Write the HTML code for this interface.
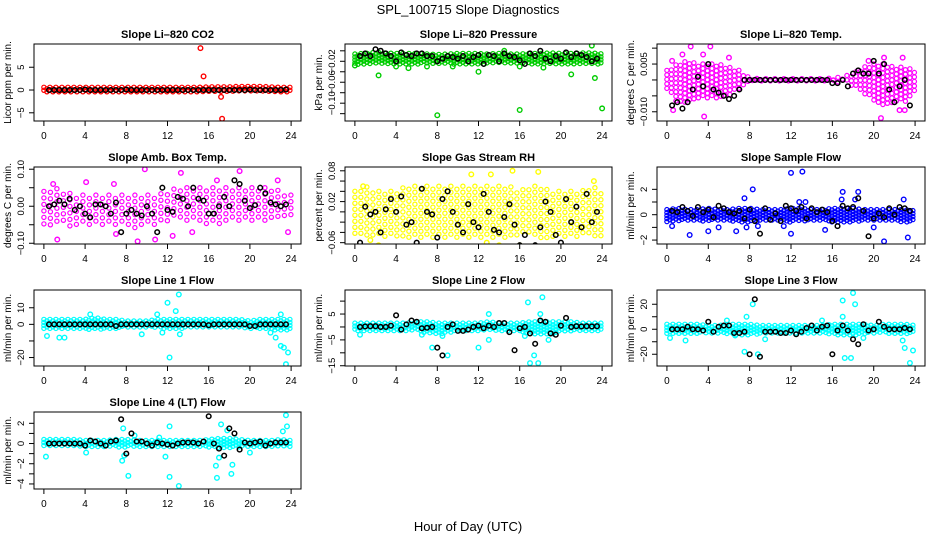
<!DOCTYPE html>
<html><head><meta charset="utf-8"><style>
html,body{margin:0;padding:0;background:#fff;}
svg{display:block;font-family:"Liberation Sans",Arial,sans-serif;}
</style></head><body>
<svg id="chart" width="936" height="540" viewBox="0 0 936 540">
<rect width="936" height="540" fill="#fff"/>
<text x="468" y="14" text-anchor="middle" font-size="13">SPL_100715  Slope Diagnostics</text>
<text x="468" y="531" text-anchor="middle" font-size="13">Hour of Day (UTC)</text>
</svg>
<script>
// ---- shared x-axis data ----
const xTicks = [0,4,8,12,16,20,24];
const blackHours = [0.5,1,1.5,2,2.5,3,3.5,4,4.5,5,5.5,6,6.5,7,7.5,8,8.5,9,9.5,10,10.5,11,11.5,12,12.5,13,13.5,14,14.5,15,15.5,16,16.5,17,17.5,18,18.5,19,19.5,20,20.5,21,21.5,22,22.5,23,23.5];
const bandHours = [0,1,2,3,4,5,6,7,8,9,10,11,12,13,14,15,16,17,18,19,20,21,22,23,24];

// ---- panel 1: CO2 ----
const co2Lo = [-0.5,-0.5,-0.6,-0.5,-0.5,-0.5,-0.5,-0.5,-0.5,-0.5,-0.5,-0.5,-0.5,-0.5,-0.5,-0.5,-0.5,-0.5,-0.5,-0.5,-0.5,-0.5,-0.5,-0.5,-0.5];
const co2Hi = [0.6,0.6,0.6,0.6,0.6,0.6,0.6,0.6,0.6,0.6,0.6,0.6,0.6,0.6,0.6,0.6,0.7,0.7,0.7,0.8,0.8,0.8,0.7,0.6,0.6];
const co2Out = [[15.2,9.2],[15.5,3.0],[17.2,-1.5],[17.3,-6.3]];
const co2Black = [0,0,0,0,0,0,0,0.1,0,0,0,0,0,0,0,0.1,0,0,0,0,0,0,0,0,0,0,0,0,0,0,0,0,0,0,0,0,0,0,0,0.1,0,0,0,0,0,0,0.1];
// ---- panel 2: pressure ----
const presLo = [-0.027,-0.026,-0.026,-0.026,-0.025,-0.026,-0.026,-0.025,-0.027,-0.026,-0.026,-0.025,-0.026,-0.026,-0.025,-0.026,-0.026,-0.025,-0.026,-0.026,-0.025,-0.026,-0.026,-0.025,-0.026];
const presHi = [-0.006,-0.005,-0.003,-0.004,-0.005,-0.005,-0.005,-0.006,-0.007,-0.006,-0.005,-0.005,-0.005,-0.006,-0.005,-0.006,-0.006,-0.005,-0.005,-0.004,-0.005,-0.005,-0.004,-0.004,-0.006];
const presOut = [[8,-0.123],[16,-0.113],[24,-0.11],[2.3,-0.047],[23.3,-0.052],[12,-0.04],[21,-0.045],[0,-0.028],[5.2,-0.033],[23,0.01],[14.5,0.0],[4,-0.03],[7,-0.03],[9.5,-0.03],[16,-0.03],[18.3,-0.032]];
const presBlack = [-0.01,-0.005,-0.01,0.003,0,-0.005,-0.01,-0.02,-0.003,-0.008,-0.01,-0.005,-0.005,-0.01,-0.01,-0.02,-0.015,-0.01,-0.012,-0.015,-0.01,-0.02,-0.012,-0.008,-0.025,-0.008,-0.01,-0.02,-0.005,-0.01,-0.012,-0.018,-0.025,-0.005,-0.01,0.0,-0.015,-0.02,-0.01,-0.015,-0.003,-0.012,-0.005,-0.008,-0.012,-0.02,-0.015];
// ---- panel 3: Li-820 temp ----
const tempLo = [-0.004,-0.007,-0.007,-0.006,-0.006,-0.006,-0.005,-0.003,-0.0006,-0.0004,-0.0004,-0.0004,-0.0004,-0.0004,-0.0004,-0.0004,-0.0006,-0.001,-0.002,-0.004,-0.007,-0.008,-0.007,-0.007,-0.004];
const tempHi = [0.003,0.005,0.006,0.005,0.005,0.005,0.004,0.003,0.0006,0.0004,0.0004,0.0004,0.0004,0.0004,0.0004,0.0004,0.0006,0.001,0.002,0.004,0.005,0.005,0.004,0.004,0.003];
const tempOut = [[2.3,0.0105],[3.6,-0.0115],[20.7,-0.012],[4.2,0.0105],[0.6,-0.0095],[22.5,-0.0095],[23,-0.0095],[1.5,0.008],[3.5,0.008],[6,0.007],[21,0.007],[22.8,0.007],[0.5,0.006],[19.5,0.006]];
const tempBlack = [-0.008,-0.007,-0.009,-0.007,-0.003,0.001,-0.002,0.005,-0.003,-0.004,-0.005,-0.006,-0.005,-0.003,0.0,0,0,0,0,0,0,0,0,0,0,0,0,0,0,0,0,-0.001,-0.001,0.0,-0.002,0.002,0.003,0.002,0.002,0.006,0.002,0.005,-0.003,-0.007,-0.002,0.0,-0.008];
// ---- panel 4: ambient box temp ----
const ambLo = [-0.05,-0.06,-0.05,-0.06,-0.05,-0.05,-0.05,-0.05,-0.06,-0.06,-0.05,-0.05,-0.04,-0.04,-0.04,-0.05,-0.05,-0.05,-0.04,-0.04,-0.04,-0.04,-0.04,-0.04,-0.04];
const ambHi = [0.04,0.05,0.04,0.03,0.03,0.03,0.03,0.03,0.03,0.03,0.03,0.03,0.04,0.05,0.05,0.05,0.05,0.05,0.05,0.05,0.05,0.05,0.05,0.04,0.03];
const ambOut = [[9.8,0.1],[19,0.095],[13.3,0.09],[9.1,-0.095],[7,-0.075],[23.7,-0.07],[4.1,0.065],[22.7,0.07],[0.9,0.06],[6.8,0.06],[16.8,0.07],[1.3,-0.09],[10.8,-0.09],[12.5,-0.08],[14.4,-0.07]];
const ambBlack = [0.0,0.005,0.015,0.005,0.02,-0.01,0.0,-0.02,-0.03,0.005,0.005,0.0,-0.02,0.01,-0.07,-0.02,-0.01,-0.02,-0.025,0.0,-0.02,-0.07,0.05,-0.01,-0.015,0.025,0.02,0.0,0.05,0.02,0.015,-0.02,-0.02,0.0,0.025,0.0,0.07,0.06,0.015,-0.005,0.003,0.05,0.035,0.01,0.005,0.0,0.005];
// ---- panel 5: gas stream RH ----
const rhLo = [-0.05,-0.05,-0.05,-0.05,-0.05,-0.05,-0.05,-0.05,-0.05,-0.05,-0.05,-0.05,-0.05,-0.05,-0.05,-0.05,-0.05,-0.05,-0.05,-0.05,-0.05,-0.05,-0.05,-0.05,-0.05];
const rhHi = [0.04,0.05,0.04,0.04,0.04,0.05,0.05,0.05,0.05,0.05,0.05,0.05,0.05,0.05,0.05,0.05,0.04,0.05,0.05,0.04,0.04,0.04,0.04,0.05,0.04];
const rhOut = [[15.3,0.08],[17.8,0.078],[11.3,0.073],[13.2,0.073],[0.8,0.05],[23.2,0.06],[7,-0.07],[14,-0.065],[1.5,-0.055],[2.3,-0.065],[12.8,-0.06],[16,-0.065]];
const rhBlack = [-0.06,0.01,-0.005,0.0,-0.04,0.005,0.025,0.0,0.03,-0.025,-0.02,-0.06,0.045,0.0,-0.005,-0.05,0.025,0.04,0.0,-0.025,-0.04,0.015,-0.02,-0.03,0.035,0.0,-0.035,-0.04,-0.01,0.015,-0.025,-0.065,-0.045,-0.07,-0.065,-0.03,0.02,0.0,-0.045,-0.06,0.025,-0.02,0.01,-0.03,0.035,-0.02,0.0];
// ---- panel 6: sample flow ----
const sfLo = [-0.6,-0.5,-0.5,-0.5,-0.5,-0.5,-0.5,-0.6,-0.6,-0.5,-0.5,-0.5,-0.6,-0.5,-0.5,-0.5,-0.6,-0.6,-0.6,-0.5,-0.5,-0.5,-0.5,-0.6,-0.5];
const sfHi = [0.4,0.5,0.4,0.4,0.5,0.4,0.4,0.5,0.5,0.4,0.4,0.4,0.5,0.5,0.4,0.4,0.5,0.5,0.5,0.4,0.4,0.4,0.4,0.4,0.3];
const sfOut = [[7.5,1.3],[8.3,2.0],[12,3.3],[13.1,3.4],[12.8,1.0],[13.4,1.0],[17,1.8],[18.5,1.8],[22.9,1.2],[2.2,-1.6],[4,-1.3],[6.7,-1.3],[12,-1.5],[15.3,-1.2],[21,-2.1],[23.3,-1.8],[0.5,-0.9],[5,-1.0],[7.7,-1.0],[8.8,-0.9],[11.3,-0.9],[16.9,1.2],[18.2,1.2],[20,-1.0]];
const sfBlack = [0.3,0.2,0.6,0.3,-0.1,0.6,0.2,0.4,-0.2,0.7,0.5,0.2,0.1,0.3,-0.3,0.4,-0.5,-1.5,0.5,-0.4,0.1,-0.5,0.7,0.5,0.3,0.6,-0.3,0.5,0.2,0.4,0.2,-0.5,-0.9,0.7,0.5,0.6,1.3,0.3,-1.7,-0.3,0.1,-0.2,0.5,0.0,0.6,0.5,0.3];
// ---- panel 7: line 1 flow ----
const l1Lo = [-3,-3,-3,-3,-3,-3,-3,-3,-2,-2,-2,-2,-3,-3,-2,-2,-2,-2,-2,-2,-3,-3,-3,-4,-3];
const l1Hi = [3,3,3,3,3,4,3,3,2,2,2,3,3,3,3,3,3,3,3,3,2,3,3,3,3];
const l1Out = [[12,13],[13.1,18],[12.8,8],[12.2,-20],[23.5,-24],[23.7,-17],[23,-13],[23.3,-14],[22.5,-8],[1.5,-8],[2,-8],[0.3,-7],[9.5,-6],[22,-5],[4.5,6],[11,6],[23,6],[13.2,-6],[11.5,-5]];
const l1Black = [0,0,0,0,0,0,0,0,0,0,0,0,0,-1,0,0,0,0,0,0,0,0,0,0,0,0,0,0,0,0,0,-0.5,0,0,0,0,0,0,0,-1,-1,0,0,0,0,0,0];
// ---- panel 8: line 2 flow ----
const l2Lo = [-1.5,-1.5,-1.5,-1.5,-1.5,-1.5,-1.5,-2.5,-3,-2.5,-1.5,-1.5,-1.5,-1.5,-1.5,-1.5,-2,-2.5,-3,-3,-2,-1.5,-1.5,-1.5,-1.5];
const l2Hi = [1.5,1.5,1.5,1.5,1.5,1.5,2,2,1.5,1.5,1.5,1.5,1.5,2,1.5,1.5,1.5,2,2,2,2,2,1.5,1.5,1.5];
const l2Out = [[16.8,9.5],[18.2,11.5],[18,5],[17,-14],[17.8,-14],[17.4,-11],[9,-11],[13,-5],[12,-8],[7.5,-8],[16.5,-3.5],[0.5,-3],[13,5],[18.8,-5],[6.5,-3],[8.5,-3.5]];
const l2Black = [0,0.2,0.3,0.3,0,0,0.5,4.5,-1,1,2.5,2,-0.5,-0.3,0,-8,-11,0,1,-1.5,-1.5,-1,0,0.5,-0.5,0.5,0,1.5,1.5,-2,-9,-0.5,0,-2.5,-6.5,2.5,2,-2.5,-3,0.5,3.5,0,0.3,0.2,0.3,0.2,0.3];
// ---- panel 9: line 3 flow ----
const l3Lo = [-4,-4,-4,-4,-3,-3,-4,-5,-5,-4,-3,-3,-3,-3,-3,-3,-4,-5,-5,-4,-3,-3,-4,-4,-3];
const l3Hi = [4,4,4,4,3,3,4,4,4,3,3,3,3,3,3,3,4,4,4,4,3,4,4,4,3];
const l3Out = [[17,23],[18,29],[18.2,20],[8.3,20],[7.7,10],[8.8,-20],[7.5,-18],[17.2,-23],[17.8,-23],[23.5,-27],[23.8,-17],[23,-15],[22.8,-9],[1.8,-9],[0.3,-7],[17,10],[15,7],[19,-7],[5.8,7],[6.6,-5],[9.5,-8]];
const l3Black = [0,0,0,2,0,0,-1,6,-2,2,3,3,-3,-3,-2,-20,24,-22,-2,-2,-2,-3,-3,-1,-4,-2,1,3,-1,2,3,-20,-1,3,-1,-8,-12,4,-1,0,6,2,0,0,0,1,0];
// ---- panel 10: line 4 flow ----
const l4Lo = [-0.3,-0.3,-0.3,-0.3,-0.3,-0.3,-0.3,-0.4,-0.4,-0.3,-0.3,-0.3,-0.3,-0.3,-0.3,-0.3,-0.4,-0.5,-0.5,-0.4,-0.3,-0.3,-0.3,-0.3,-0.3];
const l4Hi = [0.4,0.4,0.4,0.4,0.3,0.3,0.3,0.4,0.4,0.3,0.3,0.3,0.3,0.3,0.3,0.3,0.4,0.5,0.5,0.4,0.3,0.3,0.3,0.4,0.3];
const l4Out = [[7.7,1.5],[7.6,-1.7],[8.2,-3.2],[12.2,-3.3],[13.1,-4.2],[12.2,1.7],[16.8,-3.4],[16.7,-2.2],[17.2,1.9],[17.8,1.3],[18.3,-2.1],[18.2,-3.0],[23.5,2.8],[23.6,1.7],[23.2,1.2],[0.2,-1.3],[4.1,-0.9],[11.8,-1.3],[20,-0.9],[7.8,-1.2],[8.8,0.8],[11.2,0.6],[17,-1.4]];
const l4Black = [0,0,0,0,0,0,0,-0.2,0.3,0.2,0,-0.2,0.2,0.3,2.4,-1,1,0.2,0.2,0,-0.2,0.1,0,-0.1,-0.2,0,0.1,0.1,0.1,0,0.2,2.7,0,-0.5,-1.2,1.5,1,-0.6,0.1,0,0.1,0.2,-0.2,0,0.1,0.1,0.1];

// ---- y tick arrays ----
const co2Ticks=[-5,0,5], co2Labels=["\u22125","0","5"];
const presTicks=[0,-0.02,-0.04,-0.06,-0.08,-0.10,-0.12], presLabels=["","\u22120.02","","\u22120.06","","\u22120.10",""];
const tempTicks=[0.01,0.005,0,-0.005,-0.01], tempLabels=["","0.005","","","\u22120.010"];
const ambTicks=[0.10,0.05,0,-0.05,-0.10], ambLabels=["0.10","","0.00","","\u22120.10"];
const rhTicks=[0.08,0.06,0.04,0.02,0,-0.02,-0.04,-0.06], rhLabels=["0.08","","","0.02","","","","\u22120.06"];
const sfTicks=[2,1,0,-1,-2], sfLabels=["2","","0","","\u22122"];
const l1Ticks=[10,0,-10,-20], l1Labels=["10","0","","\u221220"];
const l2Ticks=[10,5,0,-5,-10,-15], l2Labels=["","5","","\u22125","","\u221215"];
const l3Ticks=[20,10,0,-10,-20], l3Labels=["20","","0","","\u221220"];
const l4Ticks=[2,1,0,-1,-2,-3,-4], l4Labels=["2","","0","","\u22122","","\u22124"];

const NS="http://www.w3.org/2000/svg";
const svg=document.getElementById('chart');
function el(tag,attrs,parent){const e=document.createElementNS(NS,tag);for(const k in attrs)e.setAttribute(k,attrs[k]);(parent||svg).appendChild(e);return e;}

const cols=[[34,301],[345,612],[657,925]];
const rows=[[44,121],[167,244],[290,366],[412,489]];
const panels=[
 {t:"Slope Li\u2013820 CO2",yl:"Licor ppm per min.",c:"#ff0000",r:0,k:0,ymin:-6.8,ymax:10.1,lo:co2Lo,hi:co2Hi,out:co2Out,blk:co2Black,tk:co2Ticks,tl:co2Labels,sp:3},
 {t:"Slope Li\u2013820 Pressure",yl:"kPa per min.",c:"#00cc00",r:0,k:1,ymin:-0.134,ymax:0.013,lo:presLo,hi:presHi,out:presOut,blk:presBlack,tk:presTicks,tl:presLabels,sp:3},
 {t:"Slope Li\u2013820 Temp.",yl:"degrees C per min.",c:"#ff00ff",r:0,k:2,ymin:-0.0129,ymax:0.0113,lo:tempLo,hi:tempHi,out:tempOut,blk:tempBlack,tk:tempTicks,tl:tempLabels,sp:4.5},
 {t:"Slope Amb. Box Temp.",yl:"degrees C per min.",c:"#ff00ff",r:1,k:0,ymin:-0.102,ymax:0.106,lo:ambLo,hi:ambHi,out:ambOut,blk:ambBlack,tk:ambTicks,tl:ambLabels,sp:6.5},
 {t:"Slope Gas Stream RH",yl:"percent per min.",c:"#ffff00",r:1,k:1,ymin:-0.0626,ymax:0.0874,lo:rhLo,hi:rhHi,out:rhOut,blk:rhBlack,tk:rhTicks,tl:rhLabels,sp:6},
 {t:"Slope Sample Flow",yl:"ml/min per min.",c:"#0000ff",r:1,k:2,ymin:-2.31,ymax:3.76,lo:sfLo,hi:sfHi,out:sfOut,blk:sfBlack,tk:sfTicks,tl:sfLabels,sp:3},
 {t:"Slope Line 1 Flow",yl:"ml/min per min.",c:"#00ffff",r:2,k:0,ymin:-25.1,ymax:20.7,lo:l1Lo,hi:l1Hi,out:l1Out,blk:l1Black,tk:l1Ticks,tl:l1Labels,sp:3},
 {t:"Slope Line 2 Flow",yl:"ml/min per min.",c:"#00ffff",r:2,k:1,ymin:-15.1,ymax:14.3,lo:l2Lo,hi:l2Hi,out:l2Out,blk:l2Black,tk:l2Ticks,tl:l2Labels,sp:3},
 {t:"Slope Line 3 Flow",yl:"ml/min per min.",c:"#00ffff",r:2,k:2,ymin:-29.4,ymax:31.4,lo:l3Lo,hi:l3Hi,out:l3Out,blk:l3Black,tk:l3Ticks,tl:l3Labels,sp:3},
 {t:"Slope Line 4 (LT) Flow",yl:"ml/min per min.",c:"#00ffff",r:3,k:0,ymin:-4.5,ymax:3.12,lo:l4Lo,hi:l4Hi,out:l4Out,blk:l4Black,tk:l4Ticks,tl:l4Labels,sp:3}
];
function interp(arr,h){const i=Math.min(23,Math.floor(h));const f=h-i;return arr[i]*(1-f)+arr[i+1]*f;}

panels.forEach((p,pi)=>{
 const [x0,x1]=cols[p.k],[y0,y1]=rows[p.r];
 const g=el('g',{});
 
 
 const xs=h=>x0+(h+0.96)/25.92*(x1-x0);
 const ys=v=>y1-(v-p.ymin)/(p.ymax-p.ymin)*(y1-y0);
 const clip=el('clipPath',{id:'cp'+pi},g);el('rect',{x:x0,y:y0,width:x1-x0,height:y1-y0},clip);
 const marks=el('g',{'clip-path':'url(#cp'+pi+')'},g);
 const band=el('g',{fill:'none',stroke:p.c,'stroke-width':1.2},marks);
 
 
 const sp=p.sp;let row=0;
 for(let px=xs(0);px<=xs(24);px+=sp){
  const h=(px-x0)/(x1-x0)*25.92-0.96;const hh=Math.max(0,Math.min(24,h));
  const ya=ys(interp(p.hi,hh)),yb=ys(interp(p.lo,hh));
  const off=(row++%2)?sp/2:0;
  for(let py=ya+off;py<=yb;py+=sp){el('circle',{cx:px.toFixed(1),cy:py.toFixed(1),r:2.1},band);}
  if(yb-ya<sp) el('circle',{cx:px.toFixed(1),cy:((ya+yb)/2).toFixed(1),r:2.1},band);
 }
 const og=el('g',{fill:'none',stroke:p.c,'stroke-width':1.4},marks);
 
 
 p.out.forEach(d=>{const c=el('circle',{cx:xs(d[0]),cy:ys(d[1]),r:2.3},og);
  
  });
 const bg=el('g',{fill:'none',stroke:'#000','stroke-width':1.5},marks);
 
 
 p.blk.forEach((v,i)=>{const c=el('circle',{cx:xs(blackHours[i]),cy:ys(v),r:2.3},bg);
  
  });
 const b=el('rect',{x:x0,y:y0,width:x1-x0,height:y1-y0,fill:'none',stroke:'#000','stroke-width':1},g);
 
 
 const t=el('text',{x:(x0+x1)/2,y:y0-6,'text-anchor':'middle','font-size':11,'font-weight':'bold'},g);t.textContent=p.t;
 
 
 const xa=el('g',{'font-size':10},g);
 
 
 xTicks.forEach(v=>{el('line',{x1:xs(v),x2:xs(v),y1:y1,y2:y1+5,stroke:'#000'},xa);
  const l=el('text',{x:xs(v),y:y1+18,'text-anchor':'middle'},xa);l.textContent=v;
  
  });
 const ya=el('g',{'font-size':9.5},g);
 
 
 p.tk.forEach((v,i)=>{const y=ys(v);if(y<y0-1||y>y1+1)return;
  el('line',{x1:x0-5,x2:x0,y1:y,y2:y,stroke:'#000'},ya);
  if(p.tl[i]){const l=el('text',{x:x0-10,y:y,'text-anchor':'middle',transform:'rotate(-90 '+(x0-10)+' '+y+')'},ya);l.textContent=p.tl[i];
   
   }});
 const yl=el('text',{x:x0-23,y:(y0+y1)/2,'text-anchor':'middle','font-size':10,transform:'rotate(-90 '+(x0-23)+' '+((y0+y1)/2)+')'},g);yl.textContent=p.yl;
 
 
});
</script>
</body></html>
